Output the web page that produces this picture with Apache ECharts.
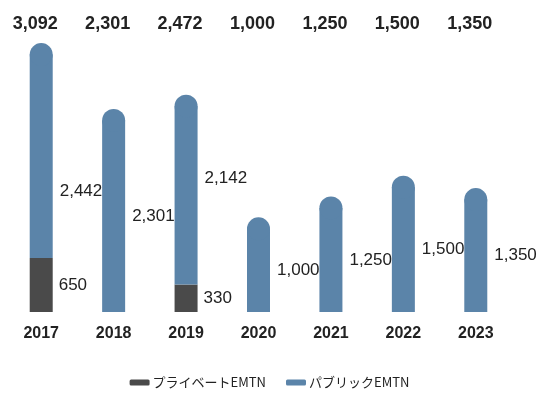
<!DOCTYPE html>
<html>
<head>
<meta charset="utf-8">
<script src="https://cdn.jsdelivr.net/npm/echarts/dist/echarts.min.js"></script>
<style>
  html, body { margin: 0; padding: 0; background: #fff; }
  #chart { width: 539px; height: 396px; }
</style>
</head>
<body>
<div id="chart"></div>
<script>
// EMTN issuance by year (stacked: private + public)
const years = ['2017', '2018', '2019', '2020', '2021', '2022', '2023'];
const privateEMTN = [650, null, 330, null, null, null, null];
const publicEMTN = [2442, 2301, 2142, 1000, 1250, 1500, 1350];
const totals = [3092, 2301, 2472, 1000, 1250, 1500, 1350];
const seriesNames = ['プライベートEMTN', 'パブリックEMTN'];

const fmt = v => Number(v).toLocaleString('en-US');
const NUM_FONT = '"Liberation Sans", Arial, sans-serif';
const COLOR_PRIVATE = '#4a4a4a';
const COLOR_PUBLIC = '#5b84a9';
const BAR_W = 23;

// a couple of public-segment labels sit away from the segment middle
const publicLabelShift = { 0: 35, 2: -17 };

const chart = echarts.init(document.getElementById('chart'), null, { renderer: 'canvas' });

chart.setOption({
  animation: false,
  backgroundColor: '#fff',
  grid: { left: 5, right: 27, top: 4, bottom: 84 },
  legend: {
    data: seriesNames,
    bottom: 2,
    left: 'center',
    itemWidth: 20,
    itemHeight: 6,
    itemGap: 20,
    icon: 'roundRect',
    textStyle: { fontFamily: '"Noto Sans CJK JP", sans-serif', fontSize: 13, color: '#222', padding: [0, 0, 0, -2] }
  },
  xAxis: [
    {
      type: 'category',
      data: years,
      axisLine: { show: false },
      axisTick: { show: false },
      axisLabel: { margin: 14, fontFamily: NUM_FONT, fontSize: 16, fontWeight: 'bold', color: '#222' }
    },
    {
      type: 'category',
      position: 'top',
      data: totals.map(fmt),
      axisLine: { show: false },
      axisTick: { show: false },
      axisLabel: {
        inside: true, margin: 11, fontFamily: NUM_FONT, fontSize: 18, fontWeight: 'bold',
        color: '#222', padding: [0, 12, 0, 0]
      }
    }
  ],
  yAxis: { type: 'value', min: 0, max: 3700, show: false },
  series: [
    {
      name: seriesNames[0],
      type: 'bar',
      stack: 'total',
      barWidth: BAR_W,
      data: privateEMTN,
      itemStyle: { color: COLOR_PRIVATE },
      label: {
        show: true, position: 'right', distance: 6,
        fontFamily: NUM_FONT, fontSize: 17, color: '#222',
        formatter: p => fmt(p.value)
      }
    },
    {
      name: seriesNames[1],
      type: 'bar',
      stack: 'total',
      barWidth: BAR_W,
      data: publicEMTN.map((v, i) => ({
        value: v,
        label: { offset: [1, publicLabelShift[i] || 0] }
      })),
      itemStyle: { color: COLOR_PUBLIC },
      label: {
        show: true, position: 'right', distance: 6,
        fontFamily: NUM_FONT, fontSize: 17, color: '#222',
        formatter: p => fmt(p.value)
      }
    },
    {
      // rounded caps on top of each column
      name: 'cap',
      type: 'scatter',
      data: totals,
      symbol: 'circle',
      symbolSize: BAR_W,
      itemStyle: { color: COLOR_PUBLIC, opacity: 1 },
      silent: true,
      emphasis: { disabled: true }
    }
  ]
});
</script>
</body>
</html>
